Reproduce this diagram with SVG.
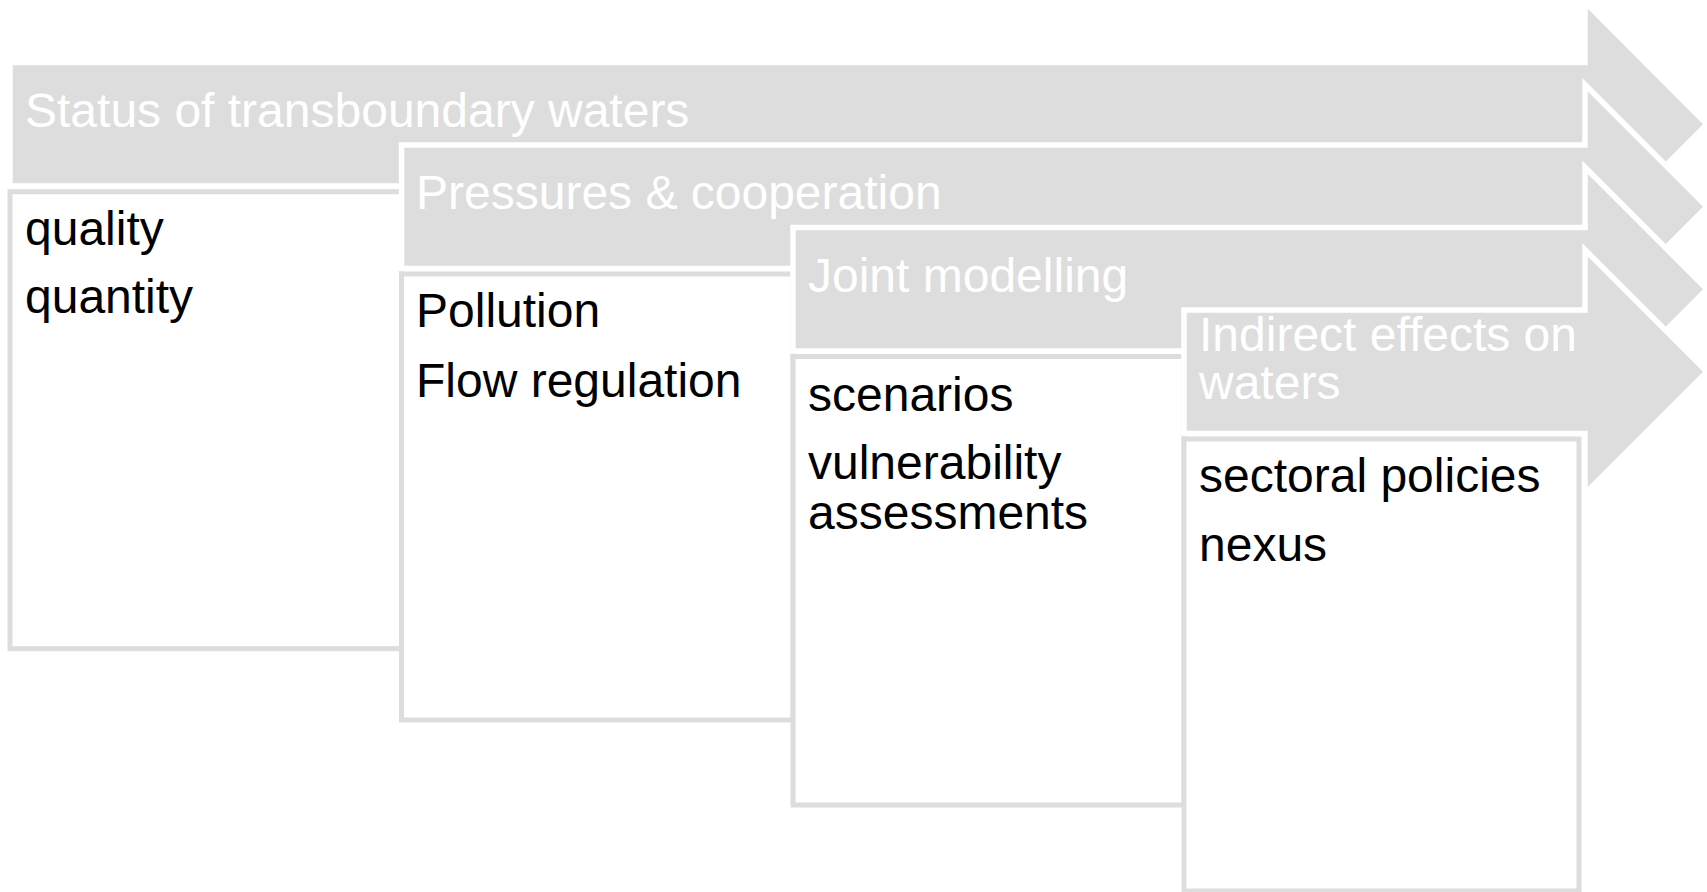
<svg xmlns="http://www.w3.org/2000/svg" width="1707" height="892" viewBox="0 0 1707 892">
<style>
.arrow{fill:#DDDDDD;stroke:#FFFFFF;stroke-width:5.5;stroke-linejoin:miter;stroke-miterlimit:10}
.box{fill:#FFFFFF;stroke:#DDDDDD;stroke-width:5}
.hd{font-family:"Liberation Sans",Arial,sans-serif;font-size:48px;fill:#FFFFFF}
.tx{font-family:"Liberation Sans",Arial,sans-serif;font-size:48px;fill:#000000}
</style>
<rect width="1707" height="892" fill="#FFFFFF"/>
<g id="step1">
<polygon class="arrow" points="10,62.5 1585,62.5 1585,2 1707,124.25 1585,246.5 1585,186 10,186"/>
<rect class="box" x="10" y="191.7" width="391.5" height="457"/>
<text class="hd" x="25" y="127">Status of transboundary waters</text>
<text class="tx" x="25" y="245">quality</text>
<text class="tx" x="25" y="313">quantity</text>
</g>
<g id="step2">
<polygon class="arrow" points="401.5,145 1585,145 1585,84.75 1707,206.75 1585,328.75 1585,268.5 401.5,268.5"/>
<rect class="box" x="401.5" y="274" width="391.5" height="446"/>
<text class="hd" x="416" y="209">Pressures &amp; cooperation</text>
<text class="tx" x="416" y="327">Pollution</text>
<text class="tx" x="416" y="396.5">Flow regulation</text>
</g>
<g id="step3">
<polygon class="arrow" points="793,227.5 1585,227.5 1585,167.25 1707,289.25 1585,411.25 1585,351 793,351"/>
<rect class="box" x="793" y="356.5" width="391" height="448.5"/>
<text class="hd" x="808" y="291.5">Joint modelling</text>
<text class="tx" x="808" y="410.5">scenarios</text>
<text class="tx" x="808" y="478.5">vulnerability</text>
<text class="tx" x="808" y="528.5">assessments</text>
</g>
<g id="step4">
<polygon class="arrow" points="1184,310 1585,310 1585,249.75 1707,371.75 1585,493.75 1585,433.5 1184,433.5"/>
<rect class="box" x="1184" y="439" width="395" height="452"/>
<text class="hd" x="1199" y="351">Indirect effects on</text>
<text class="hd" x="1199" y="398.5">waters</text>
<text class="tx" x="1199" y="492">sectoral policies</text>
<text class="tx" x="1199" y="561">nexus</text>
</g>
<g id="connectors"></g>
</svg>
